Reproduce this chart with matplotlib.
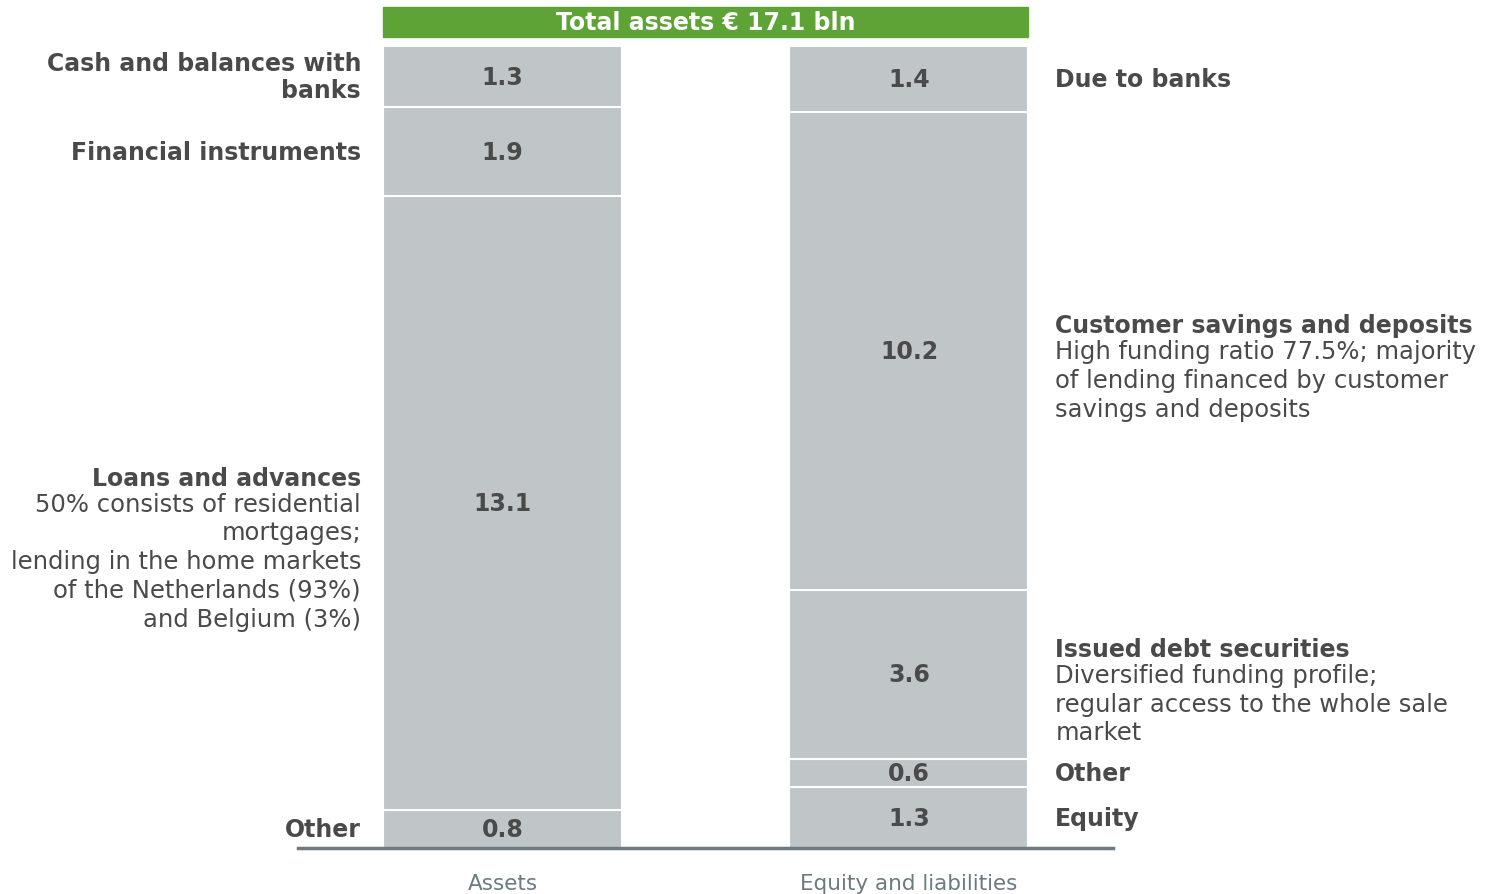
import matplotlib.pyplot as plt
from matplotlib.patches import Rectangle

# Balance sheet data (EUR bln), stacked from the bottom up
columns = ["Assets", "Equity and liabilities"]
asset_values = [0.8, 13.1, 1.9, 1.3]
asset_titles = ["Other", "Loans and advances", "Financial instruments", "Cash and balances with\nbanks"]
asset_notes = ["", "50% consists of residential\nmortgages;\nlending in the home markets\nof the Netherlands (93%)\nand Belgium (3%)", "", ""]
liab_values = [1.3, 0.6, 3.6, 10.2, 1.4]
liab_titles = ["Equity", "Other", "Issued debt securities", "Customer savings and deposits", "Due to banks"]
liab_notes = ["", "", "Diversified funding profile;\nregular access to the whole sale\nmarket",
              "High funding ratio 77.5%; majority\nof lending financed by customer\nsavings and deposits", ""]
total = 17.1
header = "Total assets € 17.1 bln"

bar_color = "#c0c5c8"
text_color = "#4a4a4a"
green = "#5ea335"
axis_color = "#6b7b80"

fig = plt.figure(figsize=(14.94, 8.95), dpi=100)
ax = fig.add_axes([0.1995, 0.0514, 0.5455, 0.896])
ax.set_xlim(-0.503, 1.502)
ax.set_ylim(0, total)

width = 0.588
positions = [0, 1]

def draw_stack(x, values, titles, notes, side):
    bottom = 0
    for v, title, note in zip(values, titles, notes):
        ax.bar(x, v, width=width, bottom=bottom, color=bar_color,
               edgecolor="white", linewidth=1.5)
        mid = bottom + v / 2
        ax.text(x, mid, f"{v:.1f}", ha="center", va="center",
                fontsize=17, fontweight="bold", color=text_color)
        if side == "left":
            tx, ha = x - width / 2 - 0.054, "right"
        else:
            tx, ha = x + width / 2 + 0.066, "left"
        if note:
            ty = mid + 0.55
            ax.text(tx, ty, title, ha=ha, va="center", fontsize=17,
                    fontweight="bold", color=text_color, clip_on=False)
            ax.text(tx, ty - 0.3, note, ha=ha, va="top", fontsize=17.5,
                    color=text_color, linespacing=1.25, clip_on=False,
                    multialignment=ha)
        else:
            ax.text(tx, mid, title, ha=ha, va="center", fontsize=17,
                    fontweight="bold", color=text_color, clip_on=False,
                    multialignment=ha, linespacing=1.15)
        bottom += v

draw_stack(positions[0], asset_values, asset_titles, asset_notes, "left")
draw_stack(positions[1], liab_values, liab_titles, liab_notes, "right")

# Green header box spanning both columns
x0 = positions[0] - width / 2
x1 = positions[1] + width / 2
ax.add_patch(Rectangle((x0, total + 0.19), x1 - x0, 0.64, color=green,
                       clip_on=False))
ax.text((x0 + x1) / 2, total + 0.51, header, ha="center", va="center",
        fontsize=17, fontweight="bold", color="white")

# Axis styling
for s in ["top", "right", "left"]:
    ax.spines[s].set_visible(False)
ax.spines["bottom"].set_color(axis_color)
ax.spines["bottom"].set_linewidth(2.5)
ax.set_yticks([])
ax.set_xticks(positions)
ax.set_xticklabels(columns, fontsize=15.5, color=axis_color)
ax.tick_params(axis="x", length=0, pad=18)

plt.savefig("out.png", dpi=100)
